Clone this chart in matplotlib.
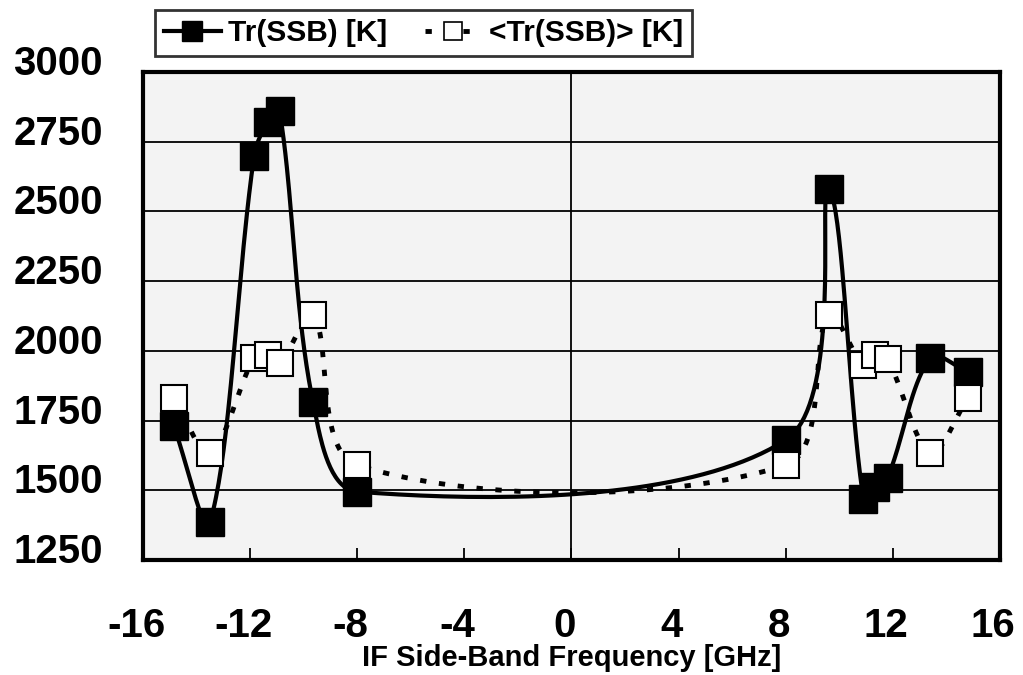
import numpy as np
import matplotlib
matplotlib.use("Agg")
import matplotlib.pyplot as plt
from matplotlib.lines import Line2D
from matplotlib.transforms import ScaledTranslation

plt.rcParams["font.family"] = ["Liberation Sans", "DejaVu Sans"]
plt.rcParams["font.weight"] = "bold"
plt.rcParams["axes.unicode_minus"] = False

# data
freq = [-14.85, -13.5, -11.85, -11.35, -10.9, -9.65, -8.0,
        8.0, 9.6, 10.9, 11.35, 11.8, 13.4, 14.8]
tr_ssb = [1730, 1385, 2700, 2820, 2860, 1815, 1495,
          1680, 2580, 1470, 1510, 1545, 1975, 1925]
tr_avg = [1830, 1635, 1975, 1985, 1955, 2130, 1590,
          1590, 2130, 1950, 1985, 1970, 1635, 1830]
x_ticks = [-16, -12, -8, -4, 0, 4, 8, 12, 16]
y_ticks = [1250, 1500, 1750, 2000, 2250, 2500, 2750, 3000]
labels = ["Tr(SSB) [K]", "<Tr(SSB)> [K]"]


def smooth(xs, ys, sx=26.8, sy=0.279, n=40):
    # excel style smoothed line, bezier handles scaled by screen distances
    p = np.column_stack([np.array(xs) * sx, np.array(ys) * sy]).astype(float)
    out = [p[0]]
    t = np.linspace(0, 1, n)[1:, None]
    for i in range(len(p) - 1):
        p0 = p[i - 1] if i > 0 else p[i]
        p1, p2 = p[i], p[i + 1]
        p3 = p[i + 2] if i + 2 < len(p) else p[i + 1]
        d01 = np.hypot(*(p1 - p0))
        d12 = np.hypot(*(p2 - p1))
        d23 = np.hypot(*(p3 - p2))
        m1 = (p2 - p0) / (d01 + d12) if d01 + d12 > 0 else 0
        m2 = (p3 - p1) / (d12 + d23) if d12 + d23 > 0 else 0
        c1 = p1 + m1 * d12 / 3
        c2 = p2 - m2 * d12 / 3
        seg = ((1 - t) ** 3 * p1 + 3 * (1 - t) ** 2 * t * c1
               + 3 * (1 - t) * t ** 2 * c2 + t ** 3 * p2)
        out.extend(seg)
    out = np.array(out)
    return out[:, 0] / sx, out[:, 1] / sy


fig = plt.figure(figsize=(10.23, 6.75), dpi=100)
ax = fig.add_axes([0.1398, 0.1704, 0.8377, 0.7230])
ax.set_facecolor("#f3f3f3")
ax.set_xlim(-16, 16)
ax.set_ylim(1250, 3000)

for y in y_ticks[1:-1]:
    ax.axhline(y, color="k", lw=1.3, zorder=1)
ax.axvline(0, color="k", lw=1.3, zorder=1)

dotted = (0, (1.3, 2.6))

sx, sy = smooth(freq, tr_ssb)
ax.plot(sx, sy, color="k", lw=3, zorder=3)
ax.plot(freq, tr_ssb, ls="none", marker="s", ms=20, mfc="k", mec="k", zorder=4)

sx2, sy2 = smooth(freq, tr_avg)
ax.plot(sx2, sy2, color="k", lw=3.5, ls=dotted, zorder=5)
ax.plot(freq, tr_avg, ls="none", marker="s", ms=19, mfc="white", mec="k",
        mew=1.5, zorder=6)

ax.set_xticks(x_ticks)
ax.set_yticks(y_ticks)
ax.tick_params(axis="x", direction="in", length=9, width=1.3, pad=34, labelsize=29)
ax.tick_params(axis="y", length=0, pad=29, labelsize=29)
for lab in ax.get_yticklabels():
    lab.set_transform(lab.get_transform() + ScaledTranslation(0, 0.12, fig.dpi_scale_trans))
for lab in ax.get_xticklabels():
    lab.set_transform(lab.get_transform() + ScaledTranslation(-0.07, 0, fig.dpi_scale_trans))

for s in ax.spines.values():
    s.set_linewidth(3)

ax.set_xlabel("IF Side-Band Frequency [GHz]", fontsize=21, fontweight="bold")
ax.xaxis.set_label_coords(0.5, -0.172)

h1 = Line2D([], [], color="k", lw=3, marker="s", ms=15, mfc="k", mec="k")
h2 = Line2D([], [], color="k", lw=3.5, ls=dotted, marker="s", ms=13,
            mfc="white", mec="k", mew=1.2)
leg = fig.legend([h1, h2], labels, loc="upper left",
                 bbox_to_anchor=(155 / 1023, 1 - 10 / 675), ncol=2,
                 frameon=True, fancybox=False, edgecolor="k",
                 prop={"size": 21.5, "weight": "bold"},
                 handlelength=1.9, handletextpad=0.25, columnspacing=1.25,
                 borderpad=0.3, borderaxespad=0)
leg.get_frame().set_linewidth(2)

fig.savefig("out.png", dpi=100)
